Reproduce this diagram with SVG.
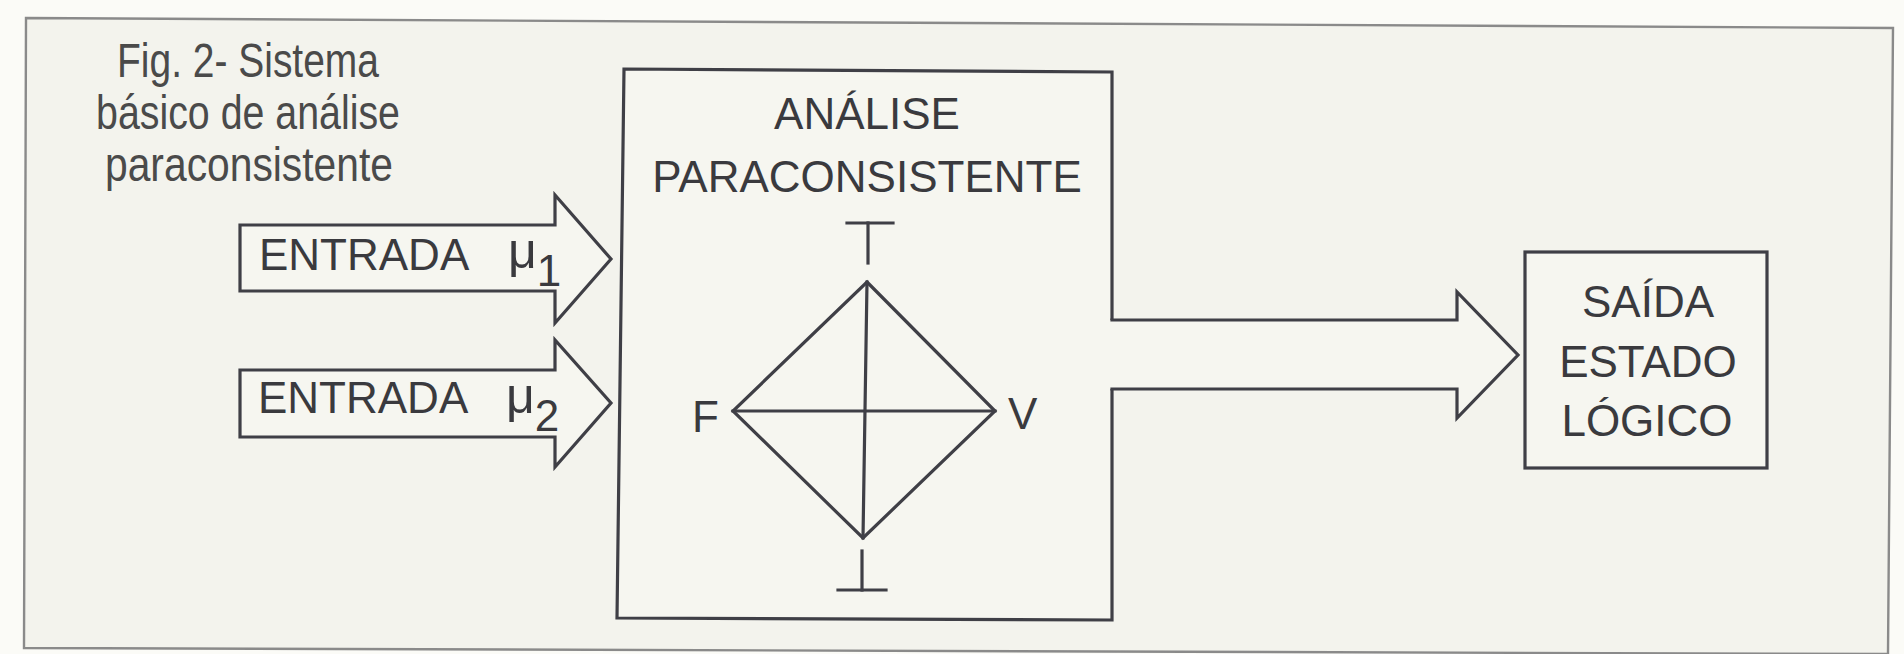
<svg xmlns="http://www.w3.org/2000/svg" width="1904" height="654" viewBox="0 0 1904 654">
  <style>
    .txt { font-family: "Liberation Sans", Arial, sans-serif; fill: #3a3a3e; }
    .lbl { font-size: 44px; }
    .mu { font-size: 50px; }
    .cap { font-size: 48px; fill: #4a4a4a; }
    .ln { fill: none; stroke: #3f3f46; stroke-width: 3.2; stroke-linejoin: miter; stroke-linecap: square; }
    .blk { fill: #f6f6f0; stroke: #3f3f46; stroke-width: 3.2; stroke-linejoin: miter; }
  </style>
  <rect x="0" y="0" width="1904" height="654" fill="#fbfbf7"/>
  <g id="frame">
    <polygon points="26,18 1893,28 1888,654 24,648" fill="#f3f3ed" stroke="#8a8a8a" stroke-width="2.4"/>
  </g>
  <g id="caption" class="txt cap" text-anchor="middle">
    <text x="248" y="77" textLength="262" lengthAdjust="spacingAndGlyphs">Fig. 2- Sistema</text>
    <text x="248" y="129" textLength="304" lengthAdjust="spacingAndGlyphs">básico de análise</text>
    <text x="249" y="181" textLength="288" lengthAdjust="spacingAndGlyphs">paraconsistente</text>
  </g>
  <g id="analise">
    <polygon class="blk" points="624,69 1112,72 1112,620 617,618"/>
    <g class="txt lbl" text-anchor="middle">
      <text x="867" y="129">ANÁLISE</text>
      <text x="867" y="192">PARACONSISTENTE</text>
    </g>
    <g id="lattice">
      <polygon class="ln" points="867,282 995,411 863,538 733,411"/>
      <line class="ln" x1="733" y1="411" x2="995" y2="411"/>
      <line class="ln" x1="867" y1="282" x2="863" y2="538"/>
      <line class="ln" x1="847" y1="223" x2="893" y2="223"/>
      <line class="ln" x1="868" y1="223" x2="868" y2="263"/>
      <line class="ln" x1="862" y1="551" x2="862" y2="590"/>
      <line class="ln" x1="838" y1="590" x2="886" y2="590"/>
      <g class="txt lbl">
        <text x="692" y="432">F</text>
        <text x="1008" y="429">V</text>
      </g>
    </g>
  </g>
  <g id="saida">
    <rect class="blk" x="1525" y="252" width="242" height="216"/>
    <g class="txt lbl" text-anchor="middle">
      <text x="1648" y="317">SAÍDA</text>
      <text x="1648" y="377">ESTADO</text>
      <text x="1647" y="436">LÓGICO</text>
    </g>
  </g>
  <g id="connectors">
    <g id="entrada1">
      <polygon class="blk" points="240,225 555,225 555,195 611,259 555,323 555,291 240,291"/>
      <text class="txt lbl" x="259" y="270">ENTRADA</text>
      <text class="txt mu" x="508" y="268">μ<tspan font-size="44" dy="18">1</tspan></text>
    </g>
    <g id="entrada2">
      <polygon class="blk" points="240,370 555,370 555,340 611,403 555,467 555,437 240,437"/>
      <text class="txt lbl" x="258" y="413">ENTRADA</text>
      <text class="txt mu" x="506" y="413">μ<tspan font-size="44" dy="18">2</tspan></text>
    </g>
    <g id="saida-arrow">
      <polygon fill="#f6f6f0" points="1110,320 1457,320 1457,292 1518,355 1457,418 1457,389 1110,389"/>
      <polyline class="ln" points="1112,320 1457,320 1457,292 1518,355 1457,418 1457,389 1112,389"/>
    </g>
  </g>
</svg>
